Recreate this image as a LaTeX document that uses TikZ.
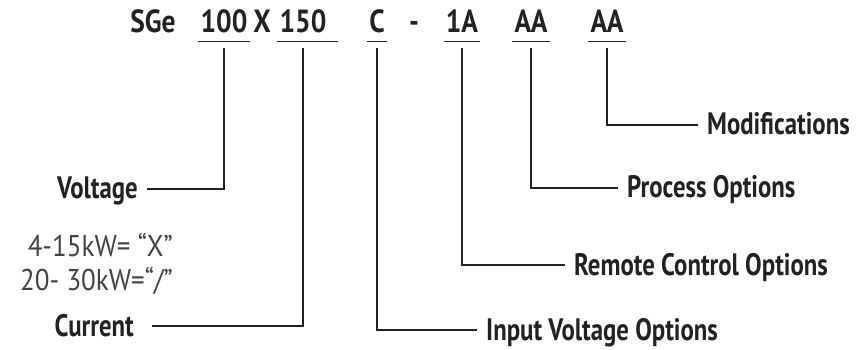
\documentclass[tikz,border=0pt]{standalone}
\usepackage{fontspec}
\setmainfont{PT Sans}
\newfontfamily\condfont{PT Sans}[FakeStretch=0.8]
\newfontfamily\codefont{PT Sans}[FakeStretch=0.86]
\newfontfamily\kwfont{PT Sans}[FakeStretch=0.9]
\usepackage{tikz}

\definecolor{ink}{HTML}{222222}

\tikzset{
    codepart/.style={font=\codefont\bfseries\fontsize{32}{38}\selectfont, text=ink, anchor=base, inner xsep=2pt, inner ysep=8pt, text depth=0pt},
    lbl/.style={font=\condfont\bfseries\fontsize{31}{36}\selectfont, text=ink, inner xsep=9pt, inner ysep=0pt, text height=20pt, text depth=0pt},
    kw/.style={font=\kwfont\fontsize{30}{34}\selectfont, text=ink!85, anchor=base east, inner sep=0pt},
    leader/.style={line width=1.3pt, draw=ink}
}

\begin{document}
\begin{tikzpicture}[x=1pt, y=-1pt]

        \useasboundingbox (0,0) rectangle (863,350);

        % model code
        \node[codepart] (sge) at (153,33) {SGe};
        \node[codepart] (v100) at (224,33) {100};
        \node[codepart] (sep) at (262,33) {X};
        \node[codepart] (c150) at (303,33) {150};
        \node[codepart] (inc) at (377,33) {C};
        \node[codepart] (dash) at (414,33) {-};
        \node[codepart] (r1a) at (462,33) {1A};
        \node[codepart] (paa) at (531,33) {AA};
        \node[codepart] (maa) at (607,33) {AA};

        \foreach \n in {v100, inc, r1a, paa, maa}
            \draw[leader] (\n.south west) -- (\n.south east);
        \draw[leader] (c150.south west) -- ([xshift=9pt]c150.south east);

        % labels
        \node[lbl, anchor=east] (volt) at (147,189) {Voltage};
        \node[lbl, anchor=east, inner xsep=18pt] (curr) at (152,326) {Current};
        \node[lbl, anchor=west] (inpt) at (477,330) {Input Voltage Options};
        \node[lbl, anchor=west] (remo) at (565,265) {Remote Control Options};
        \node[lbl, anchor=west] (proc) at (618,188) {Process Options};
        \node[lbl, anchor=west] (modi) at (698,125) {Modifications};

        \node[kw] (kwsmall) at (173,256) {4-15kW= “X”};
        \node[kw] (kwlarge) at (173,290) {20- 30kW=“/”};

        % leaders
        \draw[leader] ([yshift=-7pt]v100.south) |- (volt.east);
        \draw[leader] ([yshift=-7pt]c150.south) |- (curr.east);
        \draw[leader] ([yshift=-7pt]inc.south) |- (inpt.west);
        \draw[leader] ([yshift=-7pt]r1a.south) |- (remo.west);
        \draw[leader] ([yshift=-7pt]paa.south) |- (proc.west);
        \draw[leader] ([yshift=-7pt]maa.south) |- (modi.west);

    \end{tikzpicture}
\end{document}
